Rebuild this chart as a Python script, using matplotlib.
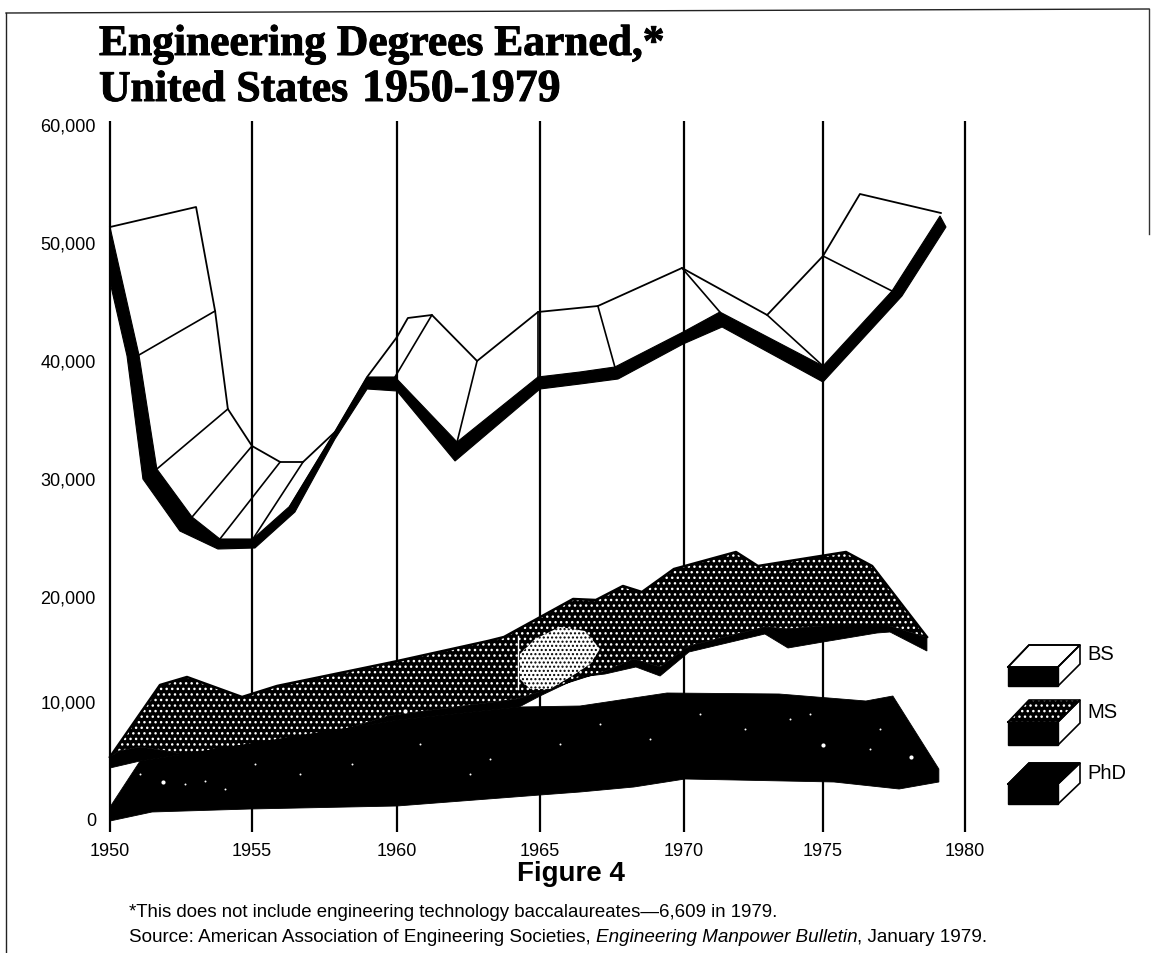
import numpy as np
import matplotlib
matplotlib.use("Agg")
import matplotlib.pyplot as plt
from matplotlib.patches import Polygon
import matplotlib.patheffects as pe

plt.rcParams['font.family'] = ['Liberation Sans', 'DejaVu Sans']

# ---------- values ----------
x_ticks = [1950, 1955, 1960, 1965, 1970, 1975, 1980]
y_ticks = [0, 10000, 20000, 30000, 40000, 50000, 60000]
y_tick_labels = ['0', '10,000', '20,000', '30,000', '40,000', '50,000', '60,000']

bs_front_top_x = [1950.00, 1951.02, 1951.65, 1952.89, 1953.87, 1955.03, 1956.31, 1957.86, 1958.97, 1959.93,
                  1962.10, 1964.93, 1966.39, 1967.60, 1969.97, 1971.29, 1975.00, 1977.43, 1979.12]
bs_front_top_y = [51270, 40424, 30763, 26695, 24831, 24831, 27628, 33899, 38560, 38560,
                  33051, 38560, 38983, 39407, 42373, 44068, 39492, 45848, 52204]
bs_front_low_x = [1950.00, 1950.60, 1951.16, 1952.46, 1953.80, 1955.10, 1956.48, 1957.86, 1958.97, 1960.00,
                  1962.03, 1965.00, 1966.39, 1967.71, 1969.97, 1971.37, 1975.00, 1977.78, 1979.33, 1979.12]
bs_front_low_y = [46610, 40339, 29916, 25509, 23983, 24068, 27119, 33305, 37543, 37373,
                  31441, 37543, 37966, 38390, 41356, 42797, 38136, 45424, 51271, 52204]
bs_back_x = [1950.00, 1953.03, 1953.70, 1954.15, 1955.00, 1955.97, 1956.76, 1957.86, 1958.97, 1960.00,
             1960.38, 1961.22, 1962.80, 1964.93, 1967.01, 1969.93, 1972.99, 1975.00, 1976.30, 1979.15]
bs_back_y = [51270, 52966, 44153, 35848, 32712, 31356, 31356, 33899, 38560, 41949,
             43560, 43814, 39916, 44068, 44576, 47797, 43814, 48814, 54068, 52458]
# folds: (index on back edge, index on front edge)
bs_folds = [(2, 1), (3, 2), (4, 3), (5, 4), (6, 5), (7, 6), (11, 9), (12, 10), (13, 11), (14, 13), (15, 15), (16, 16), (17, 17)]

ms_back_x = [1950.00, 1951.76, 1952.71, 1954.65, 1955.86, 1959.86, 1963.18, 1963.74, 1966.15, 1966.94,
             1967.88, 1968.54, 1969.65, 1971.87, 1972.66, 1975.81, 1976.73, 1978.66]
ms_back_y = [5255, 11524, 12286, 10381, 11429, 13714, 15714, 16095, 19714, 19619,
             20848, 20339, 22288, 23729, 22542, 23729, 22542, 16095]
ms_front_top_x = [1950.00, 1950.32, 1951.06, 1952.22, 1953.42, 1954.82, 1956.76, 1959.76, 1964.20, 1967.26,
                  1968.26, 1969.17, 1970.18, 1972.91, 1973.74, 1975.00, 1977.36, 1978.49, 1978.66]
ms_front_top_y = [5255, 5763, 6102, 5678, 4661, 5932, 6525, 8771, 10190, 12857,
                  14000, 13238, 15238, 17048, 16857, 17143, 17143, 16190, 16095]
ms_front_low_x = [1950.00, 1951.06, 1954.93, 1960.10, 1964.27, 1965.00, 1966.39, 1967.26, 1968.33, 1969.17,
                  1970.18, 1972.91, 1973.74, 1975.00, 1976.90, 1977.36, 1978.66]
ms_front_low_y = [4322, 4916, 6356, 8407, 9492, 10476, 12286, 12571, 13238, 12381,
                  14667, 16381, 15048, 15619, 16476, 16571, 14762]
ms_worn_x = [1964.30, 1964.83, 1965.69, 1966.56, 1967.08, 1966.74, 1966.22, 1965.35, 1964.65, 1964.30]
ms_worn_y = [14476, 15905, 17048, 16667, 14952, 13524, 12571, 11143, 11143, 12095]
ms_scratch_x = [1964.23, 1964.23]
ms_scratch_y = [16190, 11143]

phd_top_x = [1950.00, 1951.06, 1954.93, 1960.10, 1964.27, 1966.39, 1969.41, 1973.42, 1976.51, 1977.46, 1979.08]
phd_top_y = [1017, 4916, 6356, 8407, 9492, 9576, 10762, 10667, 10000, 10476, 4237]
phd_low_x = [1950.00, 1951.48, 1954.93, 1960.00, 1965.00, 1966.39, 1968.26, 1970.04, 1975.39, 1977.68, 1979.08]
phd_low_y = [-170, 593, 847, 1102, 2034, 2288, 2712, 3390, 3136, 2542, 3136]
speck_x = [1951.87, 1960.28, 1978.10, 1975.00]
speck_y = [3136, 9153, 5254, 6271]
fine_speck_x = [1951.06, 1952.64, 1953.35, 1954.05, 1955.10, 1956.66, 1958.45, 1960.80, 1962.55, 1963.25,
                1965.69, 1967.08, 1968.82, 1970.58, 1972.19, 1973.81, 1974.53, 1976.66, 1977.01]
fine_speck_y = [3814, 2966, 3220, 2543, 4661, 3814, 4661, 6356, 3814, 5085,
                6356, 8051, 6780, 8899, 7627, 8475, 8899, 5932, 7627]

# ---------- page layout ----------
W, H = 1151, 954
AX_L, AX_R, AX_T, AX_B = 105, 970, 122, 833
year_anchor = np.array([1945, 1950, 1955, 1960, 1965, 1970, 1975, 1980, 1985], float)
year_px = np.array([-32, 110, 252, 397, 540, 684, 823, 965, 1107], float)
val_anchor = np.array([-10000, 0, 10000, 20000, 30000, 40000, 50000, 60000, 70000], float)
val_rise = np.array([-118, 0, 118, 223, 341, 459, 577, 695, 813], float)


def fx(v):
    return np.interp(v, year_anchor, year_px)


def ix(p):
    return np.interp(p, year_px, year_anchor)


def fy(v):
    return np.interp(v, val_anchor, val_rise)


def iy(p):
    return np.interp(p, val_rise, val_anchor)


fig = plt.figure(figsize=(W / 100, H / 100), dpi=100, facecolor='white')
ax = fig.add_axes([AX_L / W, 1 - AX_B / H, (AX_R - AX_L) / W, (AX_B - AX_T) / H])
ax.set_xscale('function', functions=(fx, ix))
ax.set_yscale('function', functions=(fy, iy))
ax.set_xlim(ix(AX_L), ix(AX_R))
ax.set_ylim(iy(820 - AX_B), iy(820 - AX_T))
for s in ax.spines.values():
    s.set_visible(False)
ax.set_xticks(x_ticks)
ax.set_xticklabels([str(t) for t in x_ticks])
ax.set_yticks(y_ticks)
ax.set_yticklabels(y_tick_labels)
ax.minorticks_off()
ax.tick_params(axis='both', length=0, labelsize=13)
ax.tick_params(axis='x', pad=7.5)
ax.tick_params(axis='y', pad=6.5)
ax.grid(axis='x', color='black', lw=1.6, zorder=1)
ax.set_axisbelow(True)

# BS ribbon
ax.fill(bs_front_top_x + bs_front_low_x[::-1], bs_front_top_y + bs_front_low_y[::-1],
        color='black', lw=0.8, zorder=3)
ax.plot(bs_back_x, bs_back_y, color='black', lw=1.3, zorder=3)
for b, f in bs_folds:
    ax.plot([bs_back_x[b], bs_front_top_x[f]], [bs_back_y[b], bs_front_top_y[f]],
            color='black', lw=1.2, zorder=3)

# MS ribbon
ms_face_x = ms_back_x + ms_front_top_x[::-1]
ms_face_y = ms_back_y + ms_front_top_y[::-1]
ax.add_patch(Polygon(np.column_stack([ms_face_x, ms_face_y]), closed=True, facecolor='black',
                     edgecolor='white', hatch='...', lw=0, zorder=3))
ax.plot(ms_back_x, ms_back_y, color='black', lw=1.8, zorder=4)
ax.fill(ms_front_top_x + ms_front_low_x[::-1], ms_front_top_y + ms_front_low_y[::-1],
        color='black', lw=0.6, zorder=4)
ax.add_patch(Polygon(np.column_stack([ms_worn_x, ms_worn_y]), closed=True, facecolor='white',
                     edgecolor='black', hatch='....', lw=0, zorder=4))
ax.plot(ms_scratch_x, ms_scratch_y, color='white', lw=1.0, zorder=4)

# PhD ribbon
ax.fill(phd_top_x + phd_low_x[::-1], phd_top_y + phd_low_y[::-1], color='black', lw=0.6, zorder=5)
ax.scatter(speck_x, speck_y, s=9, color='white', lw=0, zorder=6)
ax.scatter(fine_speck_x, fine_speck_y, s=2, color='white', lw=0, zorder=6)

# ---------- page overlay in pixel coordinates ----------
ov = fig.add_axes([0, 0, 1, 1], zorder=10)
ov.set_xlim(0, W)
ov.set_ylim(H, 0)
ov.axis('off')
ov.patch.set_alpha(0)

ov.plot([6, 6], [14, 954], color='#222222', lw=1.0)
ov.plot([6, 1149], [14, 10], color='#222222', lw=1.0)
ov.plot([1149, 1149], [10, 235], color='#333333', lw=1.0)

heavy = [pe.withStroke(linewidth=0.7, foreground='black')]
renderer = fig.canvas.get_renderer()
ov.text(99, 56, 'Engineering Degrees Earned,*', family=['Liberation Serif'], weight='bold', fontsize=31.3,
        va='baseline', ha='left', path_effects=heavy)
ov.text(99, 102, 'United States', family=['Liberation Serif'], weight='bold', fontsize=31.5,
        va='baseline', ha='left', path_effects=heavy)
ov.text(362, 102, '1950-1979', family=['Liberation Serif'], weight='bold', fontsize=33,
        va='baseline', ha='left', path_effects=heavy)

ov.text(571, 881, 'Figure 4', weight='bold', fontsize=20, ha='center', va='baseline')

ov.text(129, 917, '*This does not include engineering technology baccalaureates\u20146,609 in 1979.',
        fontsize=13.4, va='baseline')
cur = 129
for txt, style in (('Source: American Association of Engineering Societies,', 'normal'),
                   ('Engineering Manpower Bulletin', 'italic'),
                   (', January 1979.', 'normal')):
    t = ov.text(cur, 942, txt, fontsize=13.6, style=style, va='baseline')
    cur += t.get_window_extent(renderer).width
    if txt.endswith('Societies,'):
        cur += 5

legend = [('BS', 646, 668, 687, 655, 'white', None), ('MS', 701, 723, 746, 713, 'black', '...'),
          ('PhD', 764, 785, 805, 774, 'black', None)]
for name, top, mid, bot, label_y, fc, hat in legend:
    ov.add_patch(Polygon([(1008, mid), (1029, top), (1080, top), (1058, mid)], closed=True,
                         facecolor=fc, edgecolor='white' if hat else 'black', hatch=hat, lw=0 if hat else 1.2))
    ov.plot([1008, 1029, 1080, 1058, 1008], [mid, top, top, mid, mid], color='black', lw=1.2)
    ov.add_patch(Polygon([(1058, mid), (1080, top), (1080, top + bot - mid), (1058, bot)], closed=True,
                         facecolor='white', edgecolor='black', lw=1.2))
    ov.add_patch(Polygon([(1008, mid), (1058, mid), (1058, bot), (1008, bot)], closed=True,
                         facecolor='black', edgecolor='black', lw=1.0))
    ov.text(1087, label_y, name, fontsize=14.5, va='center', ha='left')

fig.savefig('out.png', dpi=100, facecolor='white')
